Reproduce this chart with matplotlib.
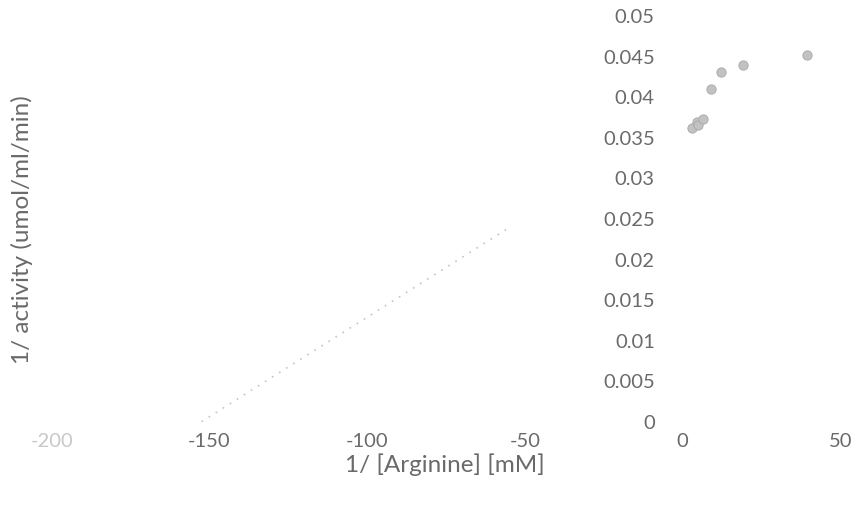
import matplotlib
matplotlib.use("Agg")
import matplotlib.pyplot as plt
import numpy as np

# Data (Lineweaver-Burk plot)
inv_arginine = [3.0, 4.5, 5.0, 6.5, 9.1, 12.1, 19.2, 39.4]
inv_activity = [0.0362, 0.0370, 0.0366, 0.0373, 0.0410, 0.0431, 0.0440, 0.0452]
trend_slope = 0.000245
trend_intercept = 0.0374
trend_range = [-152.5, -55.0]

x_ticks = [-200, -150, -100, -50, 0, 50]
y_ticks = [0, 0.005, 0.01, 0.015, 0.02, 0.025, 0.03, 0.035, 0.04, 0.045, 0.05]
y_tick_labels = ["0", "0.005", "0.01", "0.015", "0.02", "0.025", "0.03", "0.035", "0.04", "0.045", "0.05"]

plt.rcParams['font.family'] = ['Lato', 'DejaVu Sans']
text_color = "#6a6a6a"

fig = plt.figure(figsize=(8.59, 5.05), dpi=100)
ax = fig.add_axes([0.0602, 0.1644, 0.918, 0.804])

tx = np.array(trend_range)
ax.plot(tx, trend_slope * tx + trend_intercept, linestyle=(0, (1, 4)),
        color="#c4c4c4", linewidth=1.2, zorder=1)
ax.scatter(inv_arginine, inv_activity, s=45, color="#c2c2c2",
           edgecolors="#a8a8a8", linewidths=0.6, zorder=3)

ax.set_xlim(-200, 50)
ax.set_ylim(0, 0.05)
ax.set_xticks(x_ticks)
ax.set_xticklabels([str(v) for v in x_ticks])
ax.set_yticks(y_ticks)
ax.set_yticklabels(y_tick_labels)

ax.spines['left'].set_position(('data', 0))
for s in ['top', 'right']:
    ax.spines[s].set_visible(False)
for s in ['left', 'bottom']:
    ax.spines[s].set_color("none")
ax.tick_params(axis='both', length=0, colors=text_color, labelsize=14.5)
ax.tick_params(axis='y', pad=20)
ax.tick_params(axis='x', pad=8)
# the leftmost label is very faint in the reference
ax.get_xticklabels()[0].set_color("#c8c8c8")

fig.text(0.518, 0.079, "1/ [Arginine] [mM]", ha='center', va='center',
         fontsize=17.5, color=text_color)
fig.text(0.025, 0.545, "1/ activity (umol/ml/min)", ha='center', va='center',
         rotation=90, fontsize=17.5, color=text_color)

fig.savefig("out.png", dpi=100, facecolor="white")
